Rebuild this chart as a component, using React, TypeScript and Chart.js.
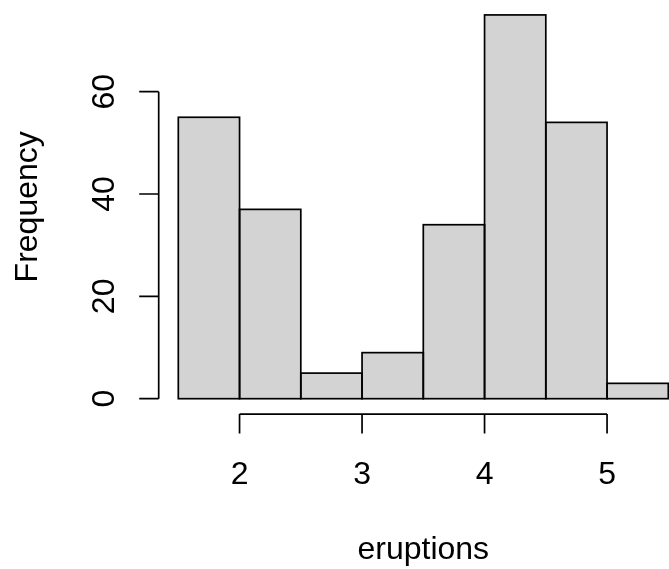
import React, { useEffect, useRef } from "react";
import { Chart, registerables } from "chart.js";

Chart.register(...registerables);

// Histogram of eruptions (bin breaks 1.5 .. 5.5, width 0.5)
const binStarts = [1.5, 2.0, 2.5, 3.0, 3.5, 4.0, 4.5, 5.0];
const binWidth = 0.5;
const frequencies = [55, 37, 5, 9, 34, 75, 54, 3];
const xTicks = [2, 3, 4, 5];
const yTicks = [0, 20, 40, 60];
const xTitle = "eruptions";
const yTitle = "Frequency";

const FONT = '32px "Liberation Sans", Arial, sans-serif';
const LINE_W = 1.7;

const barOutlinePlugin = {
  id: "barOutline",
  afterDatasetsDraw(chart: any) {
    const { ctx, chartArea } = chart;
    const meta = chart.getDatasetMeta(0);
    ctx.save();
    ctx.beginPath();
    ctx.rect(chartArea.left, chartArea.top, chartArea.right - chartArea.left + 2, chartArea.bottom - chartArea.top);
    ctx.clip();
    ctx.strokeStyle = "#000";
    ctx.lineWidth = LINE_W;
    meta.data.forEach((bar: any) => {
      const p = bar.getProps(["x", "y", "base", "width"], true);
      const l = p.x - p.width / 2;
      ctx.strokeRect(l, Math.min(p.y, p.base), p.width, Math.abs(p.base - p.y));
    });
    ctx.restore();
  },
};

const rAxesPlugin = {
  id: "rAxes",
  afterDraw(chart: any) {
    const { ctx, chartArea } = chart;
    const xs = chart.scales.x;
    const ys = chart.scales.y;
    const tickLen = 19.5;
    ctx.save();
    ctx.strokeStyle = "#000";
    ctx.lineWidth = LINE_W;
    ctx.fillStyle = "#000";
    ctx.font = FONT;

    // y axis (left)
    const ax = chartArea.left;
    const y0 = ys.getPixelForValue(yTicks[0]);
    const y1 = ys.getPixelForValue(yTicks[yTicks.length - 1]);
    ctx.beginPath();
    ctx.moveTo(ax, y0);
    ctx.lineTo(ax, y1);
    yTicks.forEach((t) => {
      const py = ys.getPixelForValue(t);
      ctx.moveTo(ax, py);
      ctx.lineTo(ax - tickLen, py);
    });
    ctx.stroke();
    yTicks.forEach((t) => {
      const py = ys.getPixelForValue(t);
      ctx.save();
      ctx.translate(ax - 44.5, py);
      ctx.rotate(-Math.PI / 2);
      ctx.textAlign = "center";
      ctx.textBaseline = "alphabetic";
      ctx.fillText(String(t), 0, 0);
      ctx.restore();
    });

    // x axis (bottom)
    const ay = chartArea.bottom;
    const x0 = xs.getPixelForValue(xTicks[0]);
    const x1 = xs.getPixelForValue(xTicks[xTicks.length - 1]);
    ctx.beginPath();
    ctx.moveTo(x0, ay);
    ctx.lineTo(x1, ay);
    xTicks.forEach((t) => {
      const px = xs.getPixelForValue(t);
      ctx.moveTo(px, ay);
      ctx.lineTo(px, ay + tickLen);
    });
    ctx.stroke();
    ctx.textAlign = "center";
    ctx.textBaseline = "alphabetic";
    xTicks.forEach((t) => {
      const px = xs.getPixelForValue(t);
      ctx.fillText(String(t), px, ay + 70);
    });

    // titles
    ctx.fillText(xTitle, 423.3, ay + 145);
    ctx.save();
    ctx.translate(ax - 122, (chartArea.bottom + ys.getPixelForValue(78)) / 2);
    ctx.rotate(-Math.PI / 2);
    ctx.fillText(yTitle, 0, 0);
    ctx.restore();
    ctx.restore();
  },
};

export default function App() {
  const ref = useRef<HTMLCanvasElement | null>(null);
  useEffect(() => {
    if (!ref.current) return;
    const data = binStarts.map((s, i) => ({ x: s + binWidth / 2, y: frequencies[i] }));
    const pxPerUnit = 122.5;
    const left = 158.7;
    const xMin = 1.34;
    const xMax = xMin + (669 - left) / pxPerUnit;
    const pxPerY = 5.117;
    const y0px = 398.7;
    const yMax = y0px / pxPerY;
    const yMin = -3;
    const bottomPx = y0px - yMin * pxPerY;
    const chart = new Chart(ref.current, {
      type: "bar",
      data: {
        datasets: [
          {
            data: data as any,
            backgroundColor: "#D3D3D3",
            borderWidth: 0,
            barPercentage: 1,
            categoryPercentage: 1,
            grouped: false,
            inflateAmount: 0,
          },
        ],
      },
      options: {
        animation: false,
        responsive: true,
        maintainAspectRatio: false,
        layout: { padding: { left: left, right: 0, top: 0, bottom: 569 - bottomPx } },
        plugins: { legend: { display: false }, tooltip: { enabled: false }, title: { display: false } },
        scales: {
          x: { type: "linear", min: xMin, max: xMax, display: false, offset: false },
          y: { type: "linear", min: yMin, max: yMax, display: false },
        },
      },
      plugins: [barOutlinePlugin, rAxesPlugin],
    });
    return () => chart.destroy();
  }, []);
  return (
    <div style={{ position: "fixed", left: 0, top: 0, width: 669, height: 569, background: "#fff" }}>
      <canvas ref={ref} />
    </div>
  );
}
